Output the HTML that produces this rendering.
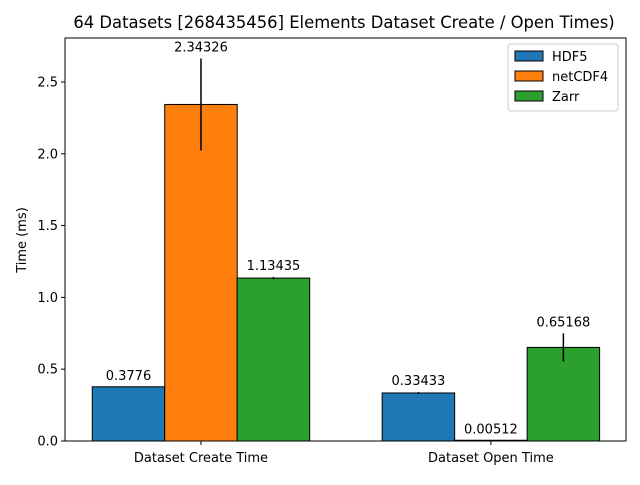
<!DOCTYPE html>
<html><head><meta charset="utf-8"><style>body{margin:0;background:#fff}svg{font-family:"DejaVu Sans","Liberation Sans",sans-serif}</style></head>
<body>
<svg id="chart" width="640" height="480" xmlns="http://www.w3.org/2000/svg"></svg>
<script>
const categories = ["Dataset Create Time", "Dataset Open Time"];
const seriesNames = ["HDF5", "netCDF4", "Zarr"];
const seriesColors = ["#1f77b4", "#ff7f0e", "#2ca02c"];
const hdf5Values = [0.3776, 0.33433];
const netcdf4Values = [2.34326, 0.00512];
const zarrValues = [1.13435, 0.65168];
const hdf5Err = [0.0, 0.006];
const netcdf4Err = [0.32, 0.0];
const zarrErr = [0.008, 0.098];
const valueLabels = [["0.3776","0.33433"],["2.34326","0.00512"],["1.13435","0.65168"]];
const yTicks = [0, 0.5, 1.0, 1.5, 2.0, 2.5];
const yTickLabels = ["0.0","0.5","1.0","1.5","2.0","2.5"];

const NS = "http://www.w3.org/2000/svg";
const svg = document.getElementById("chart");
const L = 65, R = 626, T = 38, B = 441;
const yMax = 2.806;
const xMin = -0.469, xMax = 1.466;
const y = v => B - v / yMax * (B - T);
const x = v => L + (v - xMin) / (xMax - xMin) * (R - L);
function mk(tag, attrs, parent) { const e = document.createElementNS(NS, tag); for (const k in attrs) e.setAttribute(k, attrs[k]); (parent || svg).appendChild(e); return e; }

const t = mk("text", {x: 344, y: 28, "text-anchor": "middle", "font-size": 16.4, fill: "#000"});
t.textContent = "64 Datasets [268435456] Elements Dataset Create / Open Times)";



const yl = mk("text", {x: 0, y: 0, transform: "translate(26,240) rotate(-90)", "text-anchor": "middle", "font-size": 13});
yl.textContent = "Time (ms)";



yTicks.forEach((v, i) => {
  mk("line", {x1: L - 4, x2: L, y1: y(v), y2: y(v), stroke: "#000"});
  const tl = mk("text", {x: L - 7, y: y(v) + 4.5, "text-anchor": "end", "font-size": 13});
  tl.textContent = yTickLabels[i];
  
  
});

const vals = [hdf5Values, netcdf4Values, zarrValues];
const errs = [hdf5Err, netcdf4Err, zarrErr];
const w = 0.25;
categories.forEach((c, ci) => {
  vals.forEach((sv, si) => {
    const cx = ci + (si - 1) * w;
    const r = mk("rect", {x: x(cx - w / 2), y: y(sv[ci]), width: x(cx + w / 2) - x(cx - w / 2), height: y(0) - y(sv[ci]), fill: seriesColors[si], stroke: "#000", "stroke-width": 1});
    
    
    const e = errs[si][ci];
    if (e > 0) mk("line", {x1: x(cx), x2: x(cx), y1: y(sv[ci] - e), y2: y(sv[ci] + e), stroke: "#000", "stroke-width": 1.5});
    const lb = mk("text", {x: x(cx), y: y(sv[ci] + e) - 7, "text-anchor": "middle", "font-size": 13});
    lb.textContent = valueLabels[si][ci];
    
    
  });
  mk("line", {x1: x(ci), x2: x(ci), y1: B, y2: B + 4, stroke: "#000"});
  const xl = mk("text", {x: x(ci), y: B + 21, "text-anchor": "middle", "font-size": 13});
  xl.textContent = c;
  
  
});

mk("rect", {x: L, y: T, width: R - L, height: B - T, fill: "none", stroke: "#000", "stroke-width": 1});

const lg = mk("g", {});


mk("rect", {x: 508, y: 44, width: 110, height: 67, rx: 3, fill: "#fff", stroke: "#ccc"}, lg);
seriesNames.forEach((n, i) => {
  const yy = 51 + i * 20;
  const sw = mk("rect", {x: 515, y: yy, width: 28, height: 10, fill: seriesColors[i], stroke: "#000"}, lg);
  
  
  const lt = mk("text", {x: 552, y: yy + 10, "font-size": 13}, lg);
  lt.textContent = n;
  
  
});
</script>
</body></html>
